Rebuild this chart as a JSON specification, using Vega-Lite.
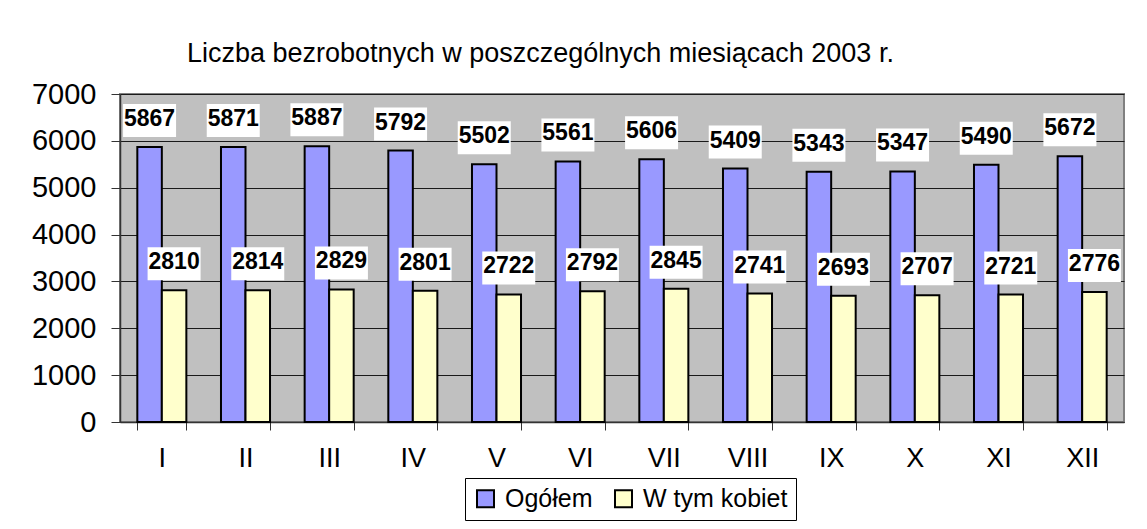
{
  "$schema": "https://vega.github.io/schema/vega-lite/v6.json",
  "width": 1004,
  "height": 328,
  "autosize": {"type": "none"},
  "padding": {"left": 120, "top": 94, "right": 23, "bottom": 107},
  "background": "white",
  "title": {
    "text": "Liczba bezrobotnych w poszczególnych miesiącach 2003 r.",
    "anchor": "start",
    "frame": "group",
    "dx": 67,
    "offset": 12,
    "fontSize": 27,
    "fontWeight": "normal",
    "font": "Liberation Sans",
    "color": "black"
  },
  "data": {
    "values": [
      {"m": "I", "s": "Ogółem", "v": 5867},
      {"m": "II", "s": "Ogółem", "v": 5871},
      {"m": "III", "s": "Ogółem", "v": 5887},
      {"m": "IV", "s": "Ogółem", "v": 5792},
      {"m": "V", "s": "Ogółem", "v": 5502},
      {"m": "VI", "s": "Ogółem", "v": 5561},
      {"m": "VII", "s": "Ogółem", "v": 5606},
      {"m": "VIII", "s": "Ogółem", "v": 5409},
      {"m": "IX", "s": "Ogółem", "v": 5343},
      {"m": "X", "s": "Ogółem", "v": 5347},
      {"m": "XI", "s": "Ogółem", "v": 5490},
      {"m": "XII", "s": "Ogółem", "v": 5672},
      {"m": "I", "s": "W tym kobiet", "v": 2810},
      {"m": "II", "s": "W tym kobiet", "v": 2814},
      {"m": "III", "s": "W tym kobiet", "v": 2829},
      {"m": "IV", "s": "W tym kobiet", "v": 2801},
      {"m": "V", "s": "W tym kobiet", "v": 2722},
      {"m": "VI", "s": "W tym kobiet", "v": 2792},
      {"m": "VII", "s": "W tym kobiet", "v": 2845},
      {"m": "VIII", "s": "W tym kobiet", "v": 2741},
      {"m": "IX", "s": "W tym kobiet", "v": 2693},
      {"m": "X", "s": "W tym kobiet", "v": 2707},
      {"m": "XI", "s": "W tym kobiet", "v": 2721},
      {"m": "XII", "s": "W tym kobiet", "v": 2776}
    ]
  },
  "encoding": {
    "x": {
      "field": "m",
      "type": "nominal",
      "sort": null,
      "scale": {"paddingInner": 0.414, "paddingOuter": 0.207},
      "axis": {
        "title": null,
        "labelAngle": 0,
        "labelFontSize": 27,
        "labelFont": "Liberation Sans",
        "labelColor": "black",
        "labelPadding": 15,
        "tickBand": "extent",
        "tickSize": 8,
        "tickColor": "#333333",
        "domainColor": "#333333",
        "domainWidth": 1.5
      }
    },
    "xOffset": {
      "field": "s",
      "type": "nominal",
      "sort": ["Ogółem", "W tym kobiet"],
      "scale": {"paddingInner": 0, "paddingOuter": 0}
    },
    "y": {
      "field": "v",
      "type": "quantitative",
      "scale": {"domain": [0, 7000], "nice": false},
      "axis": {
        "title": null,
        "format": "d",
        "values": [0, 1000, 2000, 3000, 4000, 5000, 6000, 7000],
        "labelFontSize": 29,
        "labelFont": "Liberation Sans",
        "labelColor": "black",
        "labelPadding": 15,
        "tickSize": 9,
        "tickColor": "#333333",
        "domainColor": "#333333",
        "domainWidth": 1.5,
        "grid": true,
        "gridColor": "#1a1a1a",
        "gridWidth": 1
      }
    }
  },
  "layer": [
    {
      "mark": {"type": "bar", "stroke": "black", "strokeWidth": 2},
      "encoding": {
        "color": {
          "field": "s",
          "type": "nominal",
          "scale": {"domain": ["Ogółem", "W tym kobiet"], "range": ["#9999FF", "#FFFFCC"]},
          "legend": {
            "title": null,
            "orient": "none",
            "direction": "horizontal",
            "legendX": 345,
            "legendY": 384,
            "strokeColor": "black",
            "fillColor": "white",
            "padding": 8,
            "labelFontSize": 25,
            "labelFont": "Liberation Sans",
            "labelColor": "black",
            "symbolType": "square",
            "symbolSize": 289,
            "symbolStrokeColor": "black",
            "symbolStrokeWidth": 2,
            "symbolOpacity": 1,
            "columnPadding": 18,
            "labelOffset": 7,
            "labelLimit": 300
          }
        }
      }
    },
    {
      "mark": {
        "type": "point",
        "shape": "M-26.5,-43H26.5V-10H-26.5Z",
        "size": 4,
        "filled": true,
        "fill": "white",
        "opacity": 1,
        "strokeWidth": 0
      }
    },
    {
      "mark": {
        "type": "text",
        "dy": -28,
        "baseline": "middle",
        "fontSize": 23,
        "fontWeight": "bold",
        "font": "Liberation Sans",
        "color": "black"
      },
      "encoding": {"text": {"field": "v", "type": "quantitative"}}
    }
  ],
  "config": {
    "font": "Liberation Sans",
    "view": {"fill": "#C0C0C0", "stroke": "#808080", "strokeWidth": 2}
  }
}
